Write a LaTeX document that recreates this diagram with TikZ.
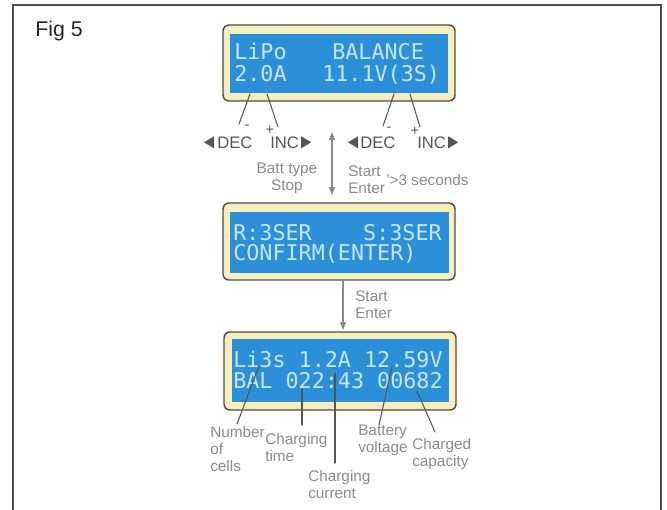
\documentclass[tikz,border=0pt]{standalone}
\usepackage{fontspec}
\setmainfont{Liberation Sans}
\newfontfamily\lcdfont{DejaVu Sans Mono}
\usetikzlibrary{arrows.meta}
\definecolor{lcdBlue}{HTML}{2B90D8}
\definecolor{lcdYellow}{HTML}{F8EDBC}
\definecolor{lcdEdge}{HTML}{4D4D4D}
\definecolor{lcdGlow}{HTML}{C6E6FA}
\definecolor{noteGray}{HTML}{8A8A8A}
\definecolor{keyGray}{HTML}{555555}

\begin{document}
\begin{tikzpicture}[
  x=0.75pt, y=-0.75pt,
  >={Triangle[length=6pt,width=4.5pt]},
  line cap=round,
  lcdframe/.style={draw=lcdEdge, fill=lcdYellow, line width=1.1pt, rounded corners=4.5pt},
  lcdscreen/.style={fill=lcdBlue},
  lcdtext/.style={anchor=base west, inner sep=0pt, text=lcdGlow,
    font=\lcdfont\fontsize{16.3}{20}\selectfont},
  note/.style={anchor=north west, align=left, inner sep=0pt, text=noteGray,
    font=\fontsize{11.5}{12.75}\selectfont},
  keytext/.style={anchor=base west, inner sep=0pt, text=keyGray,
    font=\fontsize{12.5}{15}\selectfont},
  sign/.style={inner sep=0pt, text=keyGray, font=\fontsize{11}{12}\selectfont},
  pointer/.style={draw=keyGray, line width=0.8pt},
  flow/.style={draw=noteGray, fill=noteGray, line width=0.9pt}
]
  \useasboundingbox (0,0) rectangle (667,510);

  % Outer frame (open at the bottom)
  \draw[lcdEdge, line width=1.1pt] (13,512) -- (13,5) -- (661,5) -- (661,512);
  \node[anchor=base west, inner sep=0pt, text=black!85,
        font=\fontsize{16}{19}\selectfont] (figlabel) at (35,37) {Fig 5};

  % Display 1: battery type and setting
  \draw[lcdframe] (223,25) rectangle (455,101);
  \fill[lcdscreen] (230,34) rectangle (448,93);
  \node[lcdtext] (typeA) at (234,60) {LiPo};
  \node[lcdtext] (modeA) at (332,60) {BALANCE};
  \node[lcdtext] (currA) at (234,82) {2.0A};
  \node[lcdtext] (voltA) at (322,82) {11.1V(3S)};

  % DEC / INC pointers of display 1
  \coordinate (decAtop) at (250,94);
  \coordinate (decAend) at (239,124);
  \coordinate (incAtop) at (267,94);
  \coordinate (incAend) at (278,127);
  \coordinate (decBtop) at (394,94);
  \coordinate (decBend) at (383,126);
  \coordinate (incBtop) at (410,94);
  \coordinate (incBend) at (420,127);
  \draw[pointer] (decAtop) -- (decAend);
  \draw[pointer] (incAtop) -- (incAend);
  \draw[pointer] (decBtop) -- (decBend);
  \draw[pointer] (incBtop) -- (incBend);
  \node[sign] (minusA) at (247,127) {-};
  \node[sign] (plusA) at (270,130) {+};
  \node[sign] (minusB) at (389,129) {-};
  \node[sign] (plusB) at (415,131) {+};

  \node[keytext] (decA) at (217,148) {DEC};
  \node[keytext] (incA) at (270,148) {INC};
  \node[keytext] (decB) at (360,148) {DEC};
  \node[keytext] (incB) at (417,148) {INC};
  \fill[keyGray] (decA.west) ++(-3,-6) -- ++(0,12) -- ++(-10,-6) -- cycle;
  \fill[keyGray] (incA.east) ++(2,-6) -- ++(0,12) -- ++(10,-6) -- cycle;
  \fill[keyGray] (decB.west) ++(-2,-6) -- ++(0,12) -- ++(-10,-6) -- cycle;
  \fill[keyGray] (incB.east) ++(2,-6) -- ++(0,12) -- ++(10,-6) -- cycle;

  % Between display 1 and display 2
  \coordinate (modeUp) at (332,132);
  \coordinate (modeDown) at (332,195);
  \draw[flow, <->] (modeUp) -- (modeDown);
  \node[note, anchor=north, align=center] (battstop) at (287,163) {Batt type\\Stop};
  \node[note] (startA) at (348,166) {Start\\Enter};
  \node[note, anchor=base west] (holdA) at (386,185) {'>3 seconds};

  % Display 2: confirm cells
  \draw[lcdframe] (223,203) rectangle (455,280);
  \fill[lcdscreen] (230,212) rectangle (449,273);
  \node[lcdtext] (readR) at (233,240) {R:3SER};
  \node[lcdtext, anchor=base east] (readS) at (442,240) {S:3SER};
  \node[lcdtext] (confirm) at (233,260) {CONFIRM(ENTER)};

  % Between display 2 and display 3
  \coordinate (confirmOut) at (343,281);
  \coordinate (chargeIn) at (343,330);
  \draw[flow, ->] (confirmOut) -- (chargeIn);
  \node[note] (startB) at (355,291) {Start\\Enter};

  % Display 3: charging status
  \draw[lcdframe] (224,332) rectangle (456,410);
  \fill[lcdscreen] (232,339) rectangle (449,402);
  \node[lcdtext] (statusA) at (233,367) {Li3s 1.2A 12.59V};
  \node[lcdtext] (statusB) at (233,388) {BAL 022:43 00682};

  % Pointers of display 3
  \coordinate (cellsTop) at (259,366);
  \coordinate (cellsEnd) at (237,424);
  \coordinate (timeTop) at (302,389);
  \coordinate (timeEnd) at (302,425);
  \coordinate (currTop) at (335,373);
  \coordinate (currEnd) at (335,463);
  \coordinate (voltTop) at (392,366);
  \coordinate (voltEnd) at (379,425);
  \coordinate (capTop) at (417,391);
  \coordinate (capEnd) at (435,432);
  \draw[pointer] (cellsTop) -- (cellsEnd);
  \draw[pointer] (timeTop) -- (timeEnd);
  \draw[pointer] (currTop) -- (currEnd);
  \draw[pointer] (voltTop) -- (voltEnd);
  \draw[pointer] (capTop) -- (capEnd);

  \node[note] (cells) at (210,426) {Number\\of\\cells};
  \node[note] (chtime) at (265,433) {Charging\\time};
  \node[note] (chcurr) at (308,470) {Charging\\current};
  \node[note] (battvolt) at (358,425) {Battery\\voltage};
  \node[note] (chcap) at (412,438) {Charged\\capacity};
\end{tikzpicture}
\end{document}
